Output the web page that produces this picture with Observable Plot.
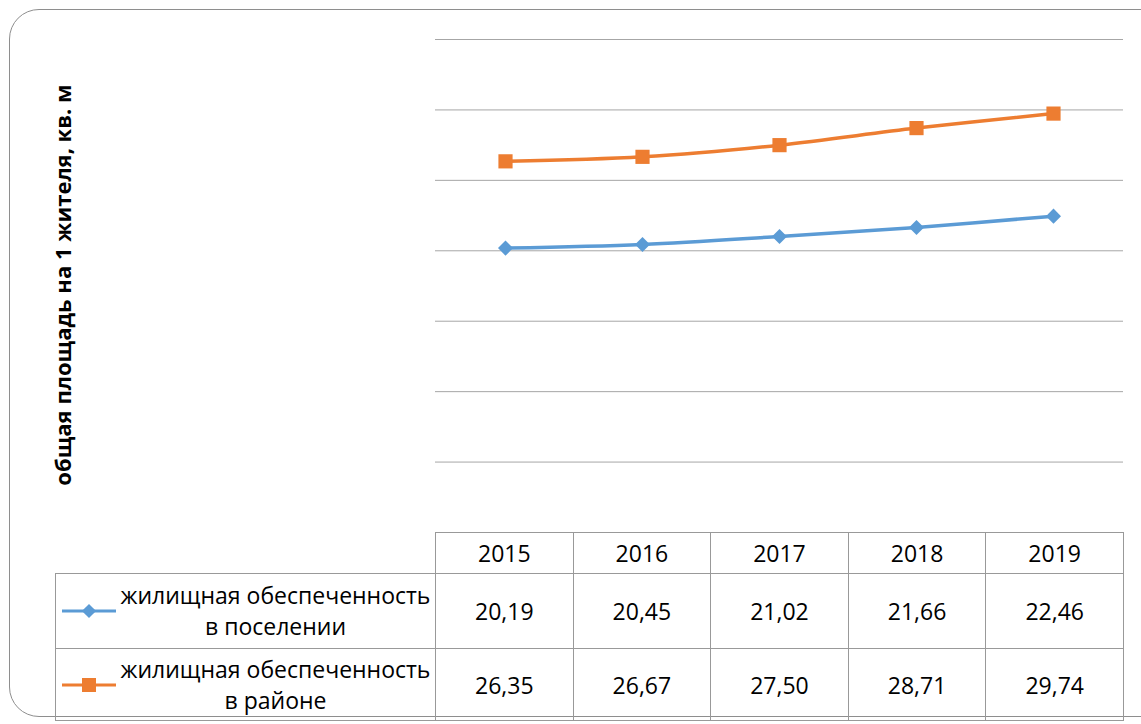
<!DOCTYPE html>
<html>
<head>
<meta charset="utf-8">
<script src="https://cdn.jsdelivr.net/npm/d3@7"></script>
<script src="https://cdn.jsdelivr.net/npm/@observablehq/plot@0.6"></script>
<style>
  html, body { margin: 0; padding: 0; background: #fff; }
  #wrap { position: relative; width: 1141px; height: 724px; overflow: hidden; background: #fff; font-family: "Open Sans", "Noto Sans", sans-serif; }
  #frame { position: absolute; left: 9px; top: 9px; width: 1170px; height: 708px; border: 1px solid #8e8e8e; border-radius: 30px; box-sizing: border-box; }
  #ytitle { position: absolute; left: 62px; top: 285px; transform: translate(-50%, -50%) rotate(-90deg); font-weight: 700; font-size: 22px; white-space: nowrap; color: #000; }
  #chart { position: absolute; left: 0; top: 0; }
  #tbl { position: absolute; left: 55px; top: 532px; border-collapse: collapse; table-layout: fixed; font-size: 23px; color: #000; }
  #tbl td { border: 1px solid #999; text-align: center; vertical-align: middle; padding: 0; }
  #tbl td.blank { border-top: none; border-left: none; }
  .key { display: flex; align-items: center; }
  .key svg { flex: none; margin-left: 6px; }
  .key .lbl { flex: 1; text-align: center; line-height: 31px; white-space: nowrap; }
</style>
</head>
<body>
<div id="wrap">
  <div id="frame"></div>
  <div id="chart"></div>
  <div id="ytitle"></div>
  <table id="tbl"></table>
</div>
<script>
// ---- data ----
const years = ["2015", "2016", "2017", "2018", "2019"];
const settlement = [20.19, 20.45, 21.02, 21.66, 22.46];
const district = [26.35, 26.67, 27.50, 28.71, 29.74];
const seriesNames = ["жилищная обеспеченность\nв поселении", "жилищная обеспеченность\nв районе"];
const gridValues = [5, 10, 15, 20, 25, 30, 35];
const yTitle = "общая площадь на 1 жителя, кв. м";

const blue = "#5b9bd5", orange = "#ed7d31";

const rows = [
  ...years.map((y, i) => ({year: y, value: settlement[i], s: 0})),
  ...years.map((y, i) => ({year: y, value: district[i], s: 1}))
];
const s0 = rows.filter(d => d.s === 0), s1 = rows.filter(d => d.s === 1);

const W = 1141, H = 533;
const plot = Plot.plot({
  width: W, height: H,
  marginLeft: 435, marginRight: 18, marginTop: 39, marginBottom: 1,
  x: {type: "point", domain: years, padding: 0.5, axis: null},
  y: {domain: [0, 35], axis: null},
  marks: [
    Plot.ruleY(gridValues, {stroke: "#a6a6a6", strokeWidth: 1}),
    Plot.line(s0, {x: "year", y: "value", stroke: blue, strokeWidth: 3.5, curve: "catmull-rom"}),
    Plot.dot(s0, {x: "year", y: "value", symbol: "square", r: 6, rotate: 45, fill: blue, stroke: "none"}),
    Plot.line(s1, {x: "year", y: "value", stroke: orange, strokeWidth: 3.5, curve: "catmull-rom"}),
    Plot.dot(s1, {x: "year", y: "value", symbol: "square", r: 8, fill: orange, stroke: "none"})
  ]
});
document.getElementById("chart").appendChild(plot);
document.getElementById("ytitle").textContent = yTitle;

// ---- data table ----
const fmt = v => v.toFixed(2).replace(".", ",");
const colW = (1123 - 435) / years.length;
const tbl = document.getElementById("tbl");
let html = `<colgroup><col style="width:380px">${years.map(() => `<col style="width:${colW}px">`).join("")}</colgroup>`;
html += `<tr style="height:41px"><td class="blank"></td>${years.map(y => `<td>${y}</td>`).join("")}</tr>`;
const keySvg = (color, sq) => `<svg width="54" height="16" viewBox="0 0 54 16"><line x1="0" y1="8" x2="54" y2="8" stroke="${color}" stroke-width="3"/>${sq ? `<rect x="20" y="1" width="14" height="14" fill="${color}"/>` : `<rect x="22" y="3" width="10" height="10" fill="${color}" transform="rotate(45 27 8)"/>`}</svg>`;
[[settlement, blue, false, 75], [district, orange, true, 72]].forEach(([vals, color, sq, h], i) => {
  html += `<tr style="height:${h}px"><td><div class="key">${keySvg(color, sq)}<div class="lbl">${seriesNames[i].replace("\n", "<br>")}</div></div></td>${vals.map(v => `<td>${fmt(v)}</td>`).join("")}</tr>`;
});
tbl.innerHTML = html;
</script>
</body>
</html>
